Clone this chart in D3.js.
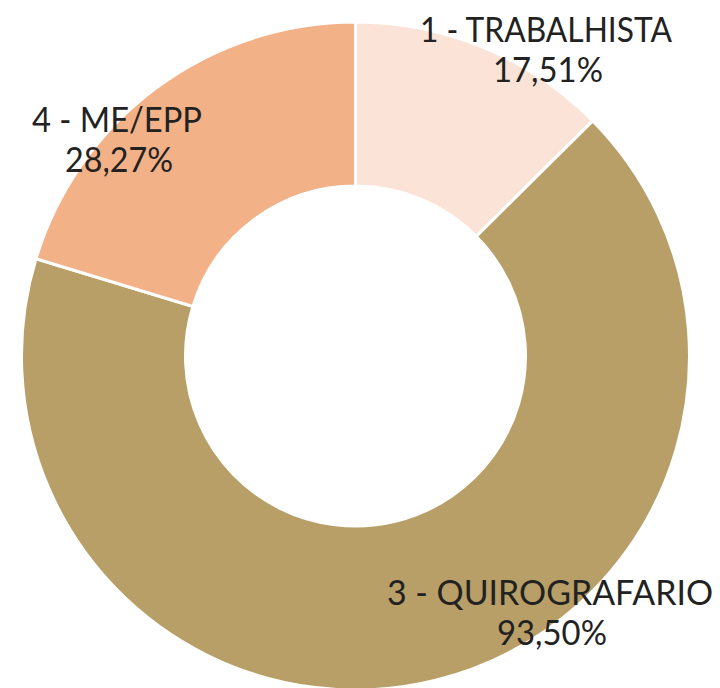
<!DOCTYPE html>
<html><head><meta charset="utf-8">
<script src="https://cdn.jsdelivr.net/npm/d3@7"></script>
<style>html,body{margin:0;padding:0;background:#fff;}svg{display:block;}</style>
</head><body>
<script>
const categories = ["1 - TRABALHISTA", "3 - QUIROGRAFARIO", "4 - ME/EPP"];
const values = [17.51, 93.50, 28.27];
const valueLabels = ["17,51%", "93,50%", "28,27%"];
const colors = ["#FBE4D7", "#B89E67", "#F3B187"];

const W = 720, H = 688;
const cx = 355.5, cy = 356, outerR = 334, innerR = 170;
// label centers (layout only)
const labelPos = [[546, 42], [550, 605], [117, 132]];
const labelWidths = [[252, 110], [326, 110], [170, 108]];

const svg = d3.select("body").append("svg").attr("width", W).attr("height", H);
const data = categories.map((c, i) => ({cat: c, value: values[i], label: valueLabels[i], color: colors[i], i}));
const pie = d3.pie().value(d => d.value).sort(null).startAngle(0).endAngle(2 * Math.PI);
const arc = d3.arc().innerRadius(innerR).outerRadius(outerR);
const g = svg.append("g").attr("transform", `translate(${cx},${cy})`);
g.selectAll("path").data(pie(data)).join("path")
  .attr("d", arc).attr("fill", d => d.data.color)
  .attr("stroke", "#fff").attr("stroke-width", 3);

const font = "Lato, 'DejaVu Sans', sans-serif";
data.forEach((d, i) => {
  const [x, y] = labelPos[i];
  const t1 = svg.append("text").attr("x", x).attr("y", y).attr("text-anchor", "middle")
    .attr("font-family", font).attr("font-size", 34).attr("fill", "#222").text(d.cat);
  t1.attr("textLength", labelWidths[i][0]).attr("lengthAdjust", "spacingAndGlyphs");
  const t2 = svg.append("text").attr("x", x + 2).attr("y", y + 40).attr("text-anchor", "middle")
    .attr("font-family", font).attr("font-size", 34).attr("fill", "#222").text(d.label);
  t2.attr("textLength", labelWidths[i][1]).attr("lengthAdjust", "spacingAndGlyphs");
});
</script>
</body></html>
